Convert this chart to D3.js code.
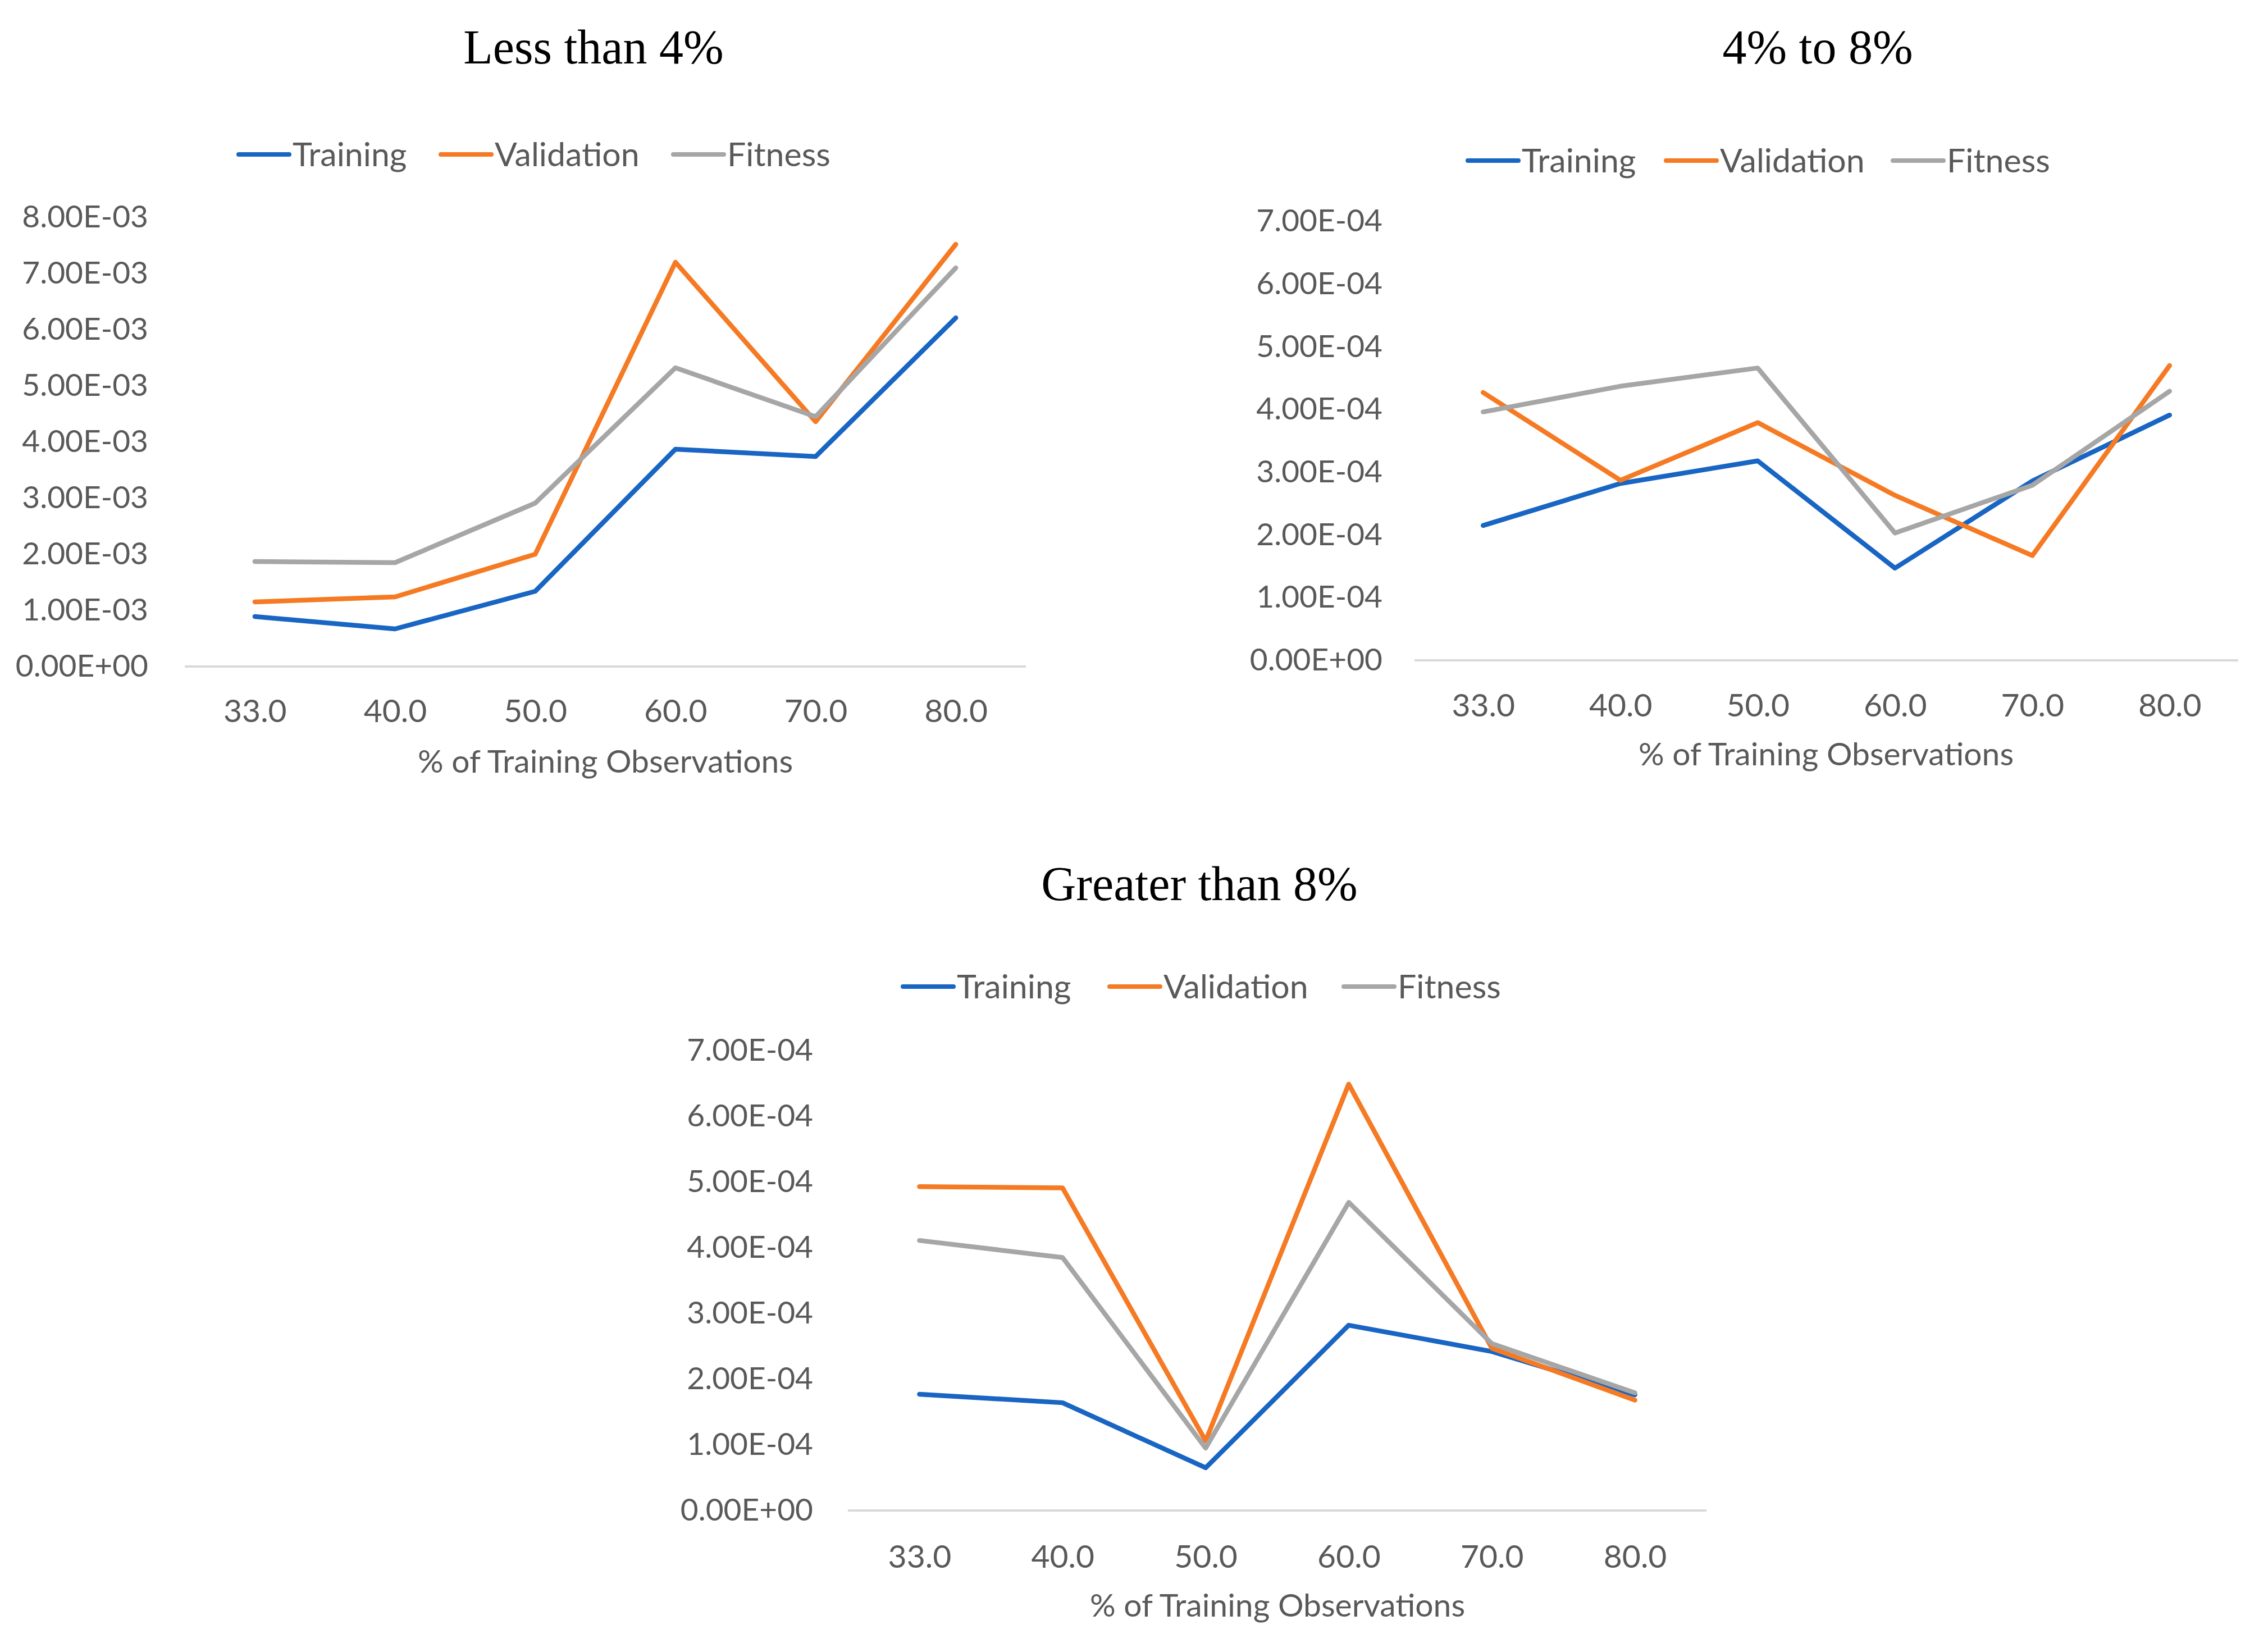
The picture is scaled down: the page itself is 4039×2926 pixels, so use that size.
<!DOCTYPE html>
<html><head><meta charset="utf-8">
<script src="https://cdn.jsdelivr.net/npm/d3@7"></script>
<style>
html,body{margin:0;padding:0;background:#fff;}
svg{display:block;}
</style></head>
<body>
<svg id="c" width="4039" height="2926"></svg>
<script>
// ---- Data ----
const categories = ["33.0","40.0","50.0","60.0","70.0","80.0"];
const seriesNames = ["Training","Validation","Fitness"];
const seriesColors = ["#1865C4","#F57A23","#A6A6A6"];

// Less than 4%
const low_training   = [0.00089,0.00067,0.00134,0.00387,0.00374,0.00621];
const low_validation = [0.00115,0.00124,0.00200,0.00720,0.00436,0.00752];
const low_fitness    = [0.00187,0.00185,0.00291,0.00532,0.00445,0.00710];
const low_ticks = [0,0.001,0.002,0.003,0.004,0.005,0.006,0.007,0.008];
const low_tickLabels = ["0.00E+00","1.00E-03","2.00E-03","3.00E-03","4.00E-03","5.00E-03","6.00E-03","7.00E-03","8.00E-03"];

// 4% to 8%
const mid_training   = [0.000215,0.000282,0.000318,0.000147,0.000286,0.000391];
const mid_validation = [0.000427,0.000287,0.000379,0.000263,0.000167,0.000470];
const mid_fitness    = [0.000396,0.000437,0.000466,0.000203,0.000279,0.000429];
const mid_ticks = [0,0.0001,0.0002,0.0003,0.0004,0.0005,0.0006,0.0007];
const mid_tickLabels = ["0.00E+00","1.00E-04","2.00E-04","3.00E-04","4.00E-04","5.00E-04","6.00E-04","7.00E-04"];

// Greater than 8%
const high_training   = [0.000177,0.000164,0.000065,0.000282,0.000242,0.000176];
const high_validation = [0.000493,0.000491,0.000106,0.000649,0.000247,0.000168];
const high_fitness    = [0.000411,0.000385,0.000095,0.000469,0.000254,0.000179];
const high_ticks = mid_ticks;
const high_tickLabels = mid_tickLabels;

const titles = ["Less than 4%","4% to 8%","Greater than 8%"];
const xTitle = "% of Training Observations";

// ---- Layout (pixels) ----
const panels = [
  {title:titles[0], series:[low_training,low_validation,low_fitness], ticks:low_ticks, labels:low_tickLabels, yMax:0.008,
   x0:329, x1:1827, yTop:387, yBot:1187, titleX:1057, titleY:113, legY:275, legX:[425,785,1199],
   labelX:264, xLabY:1266, xTitleX:1078, xTitleY:1356},
  {title:titles[1], series:[mid_training,mid_validation,mid_fitness], ticks:mid_ticks, labels:mid_tickLabels, yMax:0.0007,
   x0:2519, x1:3986, yTop:394, yBot:1176, titleX:3237, titleY:113, legY:286, legX:[2614,2967,3371],
   labelX:2462, xLabY:1256, xTitleX:3252, xTitleY:1343},
  {title:titles[2], series:[high_training,high_validation,high_fitness], ticks:high_ticks, labels:high_tickLabels, yMax:0.0007,
   x0:1510, x1:3039, yTop:1871, yBot:2690, titleX:2136, titleY:1603, legY:1757, legX:[1608,1976,2393],
   labelX:1448, xLabY:2772, xTitleX:2275, xTitleY:2859}
];

const svg = d3.select("#c");
const sansFont = "Lato,'Open Sans',sans-serif";
const textColor = "#595959";

panels.forEach(p => {
  const g = svg.append("g");
  const x = d3.scalePoint().domain(categories).range([p.x0, p.x1]).padding(0.5);
  const y = d3.scaleLinear().domain([0, p.yMax]).range([p.yBot, p.yTop]);

  // Title
  g.append("text").attr("x", p.titleX).attr("y", p.titleY)
    .attr("text-anchor","middle").attr("font-family","'Liberation Serif','DejaVu Serif',serif")
    .attr("font-size",86).attr("fill","#000").text(p.title);

  // Legend
  seriesNames.forEach((name,i) => {
    const lx = p.legX[i];
    g.append("line").attr("x1",lx).attr("x2",lx+90).attr("y1",p.legY).attr("y2",p.legY)
      .attr("stroke",seriesColors[i]).attr("stroke-width",8).attr("stroke-linecap","round");
    g.append("text").attr("x",lx+96).attr("y",p.legY).attr("dy","0.35em")
      .attr("font-family",sansFont).attr("font-size",59).attr("fill",textColor).text(name);
  });

  // Y axis labels
  const yAxis = d3.axisLeft(y).tickValues(p.ticks).tickFormat((d,i)=>p.labels[i]).tickSize(0).tickPadding(0);
  const ya = g.append("g").attr("transform",`translate(${p.labelX},0)`).call(yAxis);
  ya.select(".domain").remove();
  ya.selectAll("text").attr("font-family",sansFont).attr("font-size",55).attr("fill",textColor);

  // Baseline
  g.append("line").attr("x1",p.x0).attr("x2",p.x1).attr("y1",y(0)).attr("y2",y(0))
    .attr("stroke","#D9D9D9").attr("stroke-width",4);

  // X axis labels
  const xAxis = d3.axisBottom(x).tickSize(0).tickPadding(0);
  const xa = g.append("g").attr("transform",`translate(0,${p.xLabY})`).call(xAxis);
  xa.select(".domain").remove();
  xa.selectAll("text").attr("font-family",sansFont).attr("font-size",57).attr("fill",textColor).attr("dy","0.35em");

  // X title
  g.append("text").attr("x",p.xTitleX).attr("y",p.xTitleY).attr("text-anchor","middle").attr("dy","0.35em")
    .attr("font-family",sansFont).attr("font-size",57).attr("fill",textColor).text(xTitle);

  // Lines
  const line = d3.line().x((d,i)=>x(categories[i])).y(d=>y(d));
  p.series.forEach((s,i) => {
    g.append("path").datum(s).attr("d",line).attr("fill","none")
      .attr("stroke",seriesColors[i]).attr("stroke-width",8.5)
      .attr("stroke-linejoin","round").attr("stroke-linecap","round");
  });
});
</script>
</body></html>
